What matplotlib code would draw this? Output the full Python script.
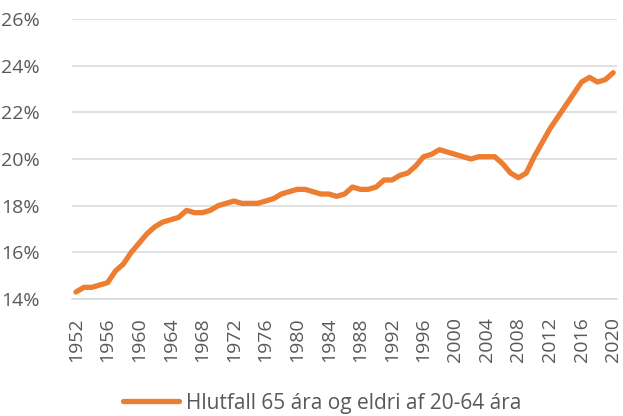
import matplotlib
matplotlib.use("Agg")
import matplotlib.pyplot as plt
from matplotlib.ticker import FuncFormatter

years = list(range(1952, 2021))
share = [
    14.3, 14.5, 14.5, 14.6, 14.7, 15.2, 15.5, 16.0, 16.4, 16.8,
    17.1, 17.3, 17.4, 17.5, 17.8, 17.7, 17.7, 17.8, 18.0, 18.1,
    18.2, 18.1, 18.1, 18.1, 18.2, 18.3, 18.5, 18.6, 18.7, 18.7,
    18.6, 18.5, 18.5, 18.4, 18.5, 18.8, 18.7, 18.7, 18.8, 19.1,
    19.1, 19.3, 19.4, 19.7, 20.1, 20.2, 20.4, 20.3, 20.2, 20.1,
    20.0, 20.1, 20.1, 20.1, 19.8, 19.4, 19.2, 19.4, 20.1, 20.7,
    21.3, 21.8, 22.3, 22.8, 23.3, 23.5, 23.3, 23.4, 23.7,
]
series_label = "Hlutfall 65 ára og eldri af 20-64 ára"
year_ticks = list(range(1952, 2021, 4))
pct_ticks = [14, 16, 18, 20, 22, 24, 26]

orange = "#ED7D31"
grey_text = "#595959"
grid_col = "#D9D9D9"

plt.rcParams["font.family"] = ["Open Sans", "DejaVu Sans"]

fig = plt.figure(figsize=(6.23, 4.16), dpi=100)
ax = fig.add_axes([0.1156, 0.2812, 0.875, 0.6731])

ax.plot(years, share, color=orange, linewidth=3.8, solid_capstyle="round",
        solid_joinstyle="round", label=series_label, zorder=3)

ax.set_xlim(1951.5, 2020.5)
ax.set_ylim(14, 26)
ax.set_yticks(pct_ticks)
ax.yaxis.set_major_formatter(FuncFormatter(lambda v, p: f"{v:.0f}%"))
ax.set_xticks(year_ticks)
ax.set_xticklabels([str(y) for y in year_ticks], rotation=90)

ax.grid(axis="y", color=grid_col, linewidth=1.1)
ax.set_axisbelow(True)
for s in ["top", "right", "left"]:
    ax.spines[s].set_visible(False)
ax.spines["bottom"].set_color(grid_col)
ax.spines["bottom"].set_linewidth(1.1)
ax.tick_params(axis="both", length=0, labelsize=14, colors=grey_text)
ax.tick_params(axis="y", pad=23)
ax.tick_params(axis="x", pad=13)

leg = fig.legend(loc="center", bbox_to_anchor=(0.517, 0.031), frameon=False,
                 fontsize=15, handlelength=2.7, handletextpad=0.3)
for t in leg.get_texts():
    t.set_color(grey_text)

fig.savefig("out.png", dpi=100)
